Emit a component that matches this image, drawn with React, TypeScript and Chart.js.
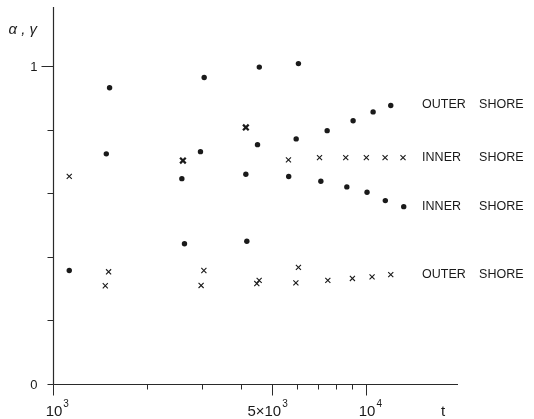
import React, { useEffect, useRef } from "react";
import { Chart, registerables } from "chart.js";

Chart.register(...registerables);

// α (dots)
const alphaT = [1127, 1480, 1516, 2580, 2630, 2958, 3040, 4130, 4160, 4500, 4560, 5660, 5980, 6080, 7510, 9090, 10530, 11990, 7170, 8680, 10070, 11520, 13190];
const alphaV = [0.357, 0.724, 0.932, 0.646, 0.441, 0.731, 0.964, 0.660, 0.449, 0.753, 0.997, 0.653, 0.771, 1.008, 0.797, 0.828, 0.856, 0.876, 0.638, 0.620, 0.603, 0.577, 0.558];

// γ (crosses)
const gammaT = [1127, 5650, 7100, 8610, 10020, 11500, 13120, 1505, 1469, 3033, 2972, 4555, 4477, 6080, 5967, 7548, 9043, 10450, 11990];
const gammaV = [0.653, 0.705, 0.712, 0.712, 0.712, 0.712, 0.712, 0.353, 0.309, 0.357, 0.310, 0.326, 0.316, 0.367, 0.318, 0.326, 0.332, 0.337, 0.344];

// coinciding (heavy) crosses
const heavyT = [2600, 4130];
const heavyV = [0.703, 0.807];

// axes
const xMin = 1000;
const xMax = 19660;
const yMin = 0;
const yMax = 1.186;
const xTickValues = [1000, 2000, 3000, 4000, 5000, 6000, 7000, 8000, 9000, 10000];
const xMajorValues = [1000, 5000, 10000];
const xLabelValues = [1000, 5000, 10000];
const xLabelBase = ["10", "5×10", "10"];
const xLabelExp = ["3", "3", "4"];
const yTickValues = [0, 0.2, 0.4, 0.6, 0.8, 1.0];
const yLabelValues = [0, 1];
const yLabelTexts = ["0", "1"];

// curve labels
const curveLabelT = 15100;
const curveLabelV = [0.879, 0.712, 0.558, 0.344];
const curveLabelWord1 = ["OUTER", "INNER", "INNER", "OUTER"];
const curveLabelWord2 = ["SHORE", "SHORE", "SHORE", "SHORE"];

const INK = "#1a1a1a";
const FONT = '"Liberation Sans", Arial, sans-serif';

const decor = {
  id: "decor",
  afterDraw(chart: any) {
    const { ctx, chartArea: a } = chart;
    const x = chart.scales.x;
    const y = chart.scales.y;
    ctx.save();
    ctx.strokeStyle = "#2a2a2a";
    ctx.lineWidth = 1.2;
    const x0 = Math.round(x.getPixelForValue(xMin)) + 0.5;
    const y0 = Math.round(y.getPixelForValue(yMin)) + 0.5;
    // axis lines
    ctx.beginPath();
    ctx.moveTo(x0, a.top);
    ctx.lineTo(x0, y0);
    ctx.moveTo(x0, y0);
    ctx.lineTo(a.right, y0);
    ctx.stroke();
    // x ticks
    ctx.lineWidth = 1;
    ctx.beginPath();
    xTickValues.forEach((v) => {
      const px = Math.round(x.getPixelForValue(v)) + 0.5;
      const len = xMajorValues.includes(v) ? 11 : 5;
      ctx.moveTo(px, y0);
      ctx.lineTo(px, y0 + len);
    });
    // y ticks
    yTickValues.forEach((v) => {
      const py = Math.round(y.getPixelForValue(v)) + 0.5;
      const len = v === 1 ? 12 : 6;
      ctx.moveTo(x0, py);
      ctx.lineTo(x0 - len, py);
    });
    ctx.stroke();

    ctx.fillStyle = INK;
    // y labels
    ctx.font = `13px ${FONT}`;
    ctx.textAlign = "right";
    ctx.textBaseline = "middle";
    yLabelValues.forEach((v, i) => {
      const py = y.getPixelForValue(v);
      ctx.fillText(yLabelTexts[i], x0 - 16, py + 1);
    });
    // x labels
    ctx.textBaseline = "alphabetic";
    xLabelValues.forEach((v, i) => {
      const px = x.getPixelForValue(v);
      ctx.font = `15px ${FONT}`;
      const base = xLabelBase[i];
      const w = ctx.measureText(base).width;
      const tenW = ctx.measureText("10").width;
      // center the "10" part on the tick
      const start = px - (w - tenW) - tenW / 2 + 1;
      ctx.textAlign = "left";
      ctx.fillText(base, start, y0 + 31);
      ctx.font = `10px ${FONT}`;
      ctx.fillText(xLabelExp[i], start + w + 1, y0 + 22);
    });
    // axis titles
    ctx.font = `italic 15px ${FONT}`;
    ctx.textAlign = "left";
    ctx.fillText("α , γ", x0 - 45, a.top + 27);
    ctx.font = `15px ${FONT}`;
    ctx.fillText("t", x.getPixelForValue(xMax) - 17, y0 + 31);

    // curve labels
    ctx.font = `12.5px ${FONT}`;
    ctx.textBaseline = "middle";
    const lx = x.getPixelForValue(curveLabelT);
    curveLabelV.forEach((v, i) => {
      const py = y.getPixelForValue(v);
      ctx.fillText(curveLabelWord1[i], lx, py);
      ctx.fillText(curveLabelWord2[i], lx + 57, py);
    });
    ctx.restore();
  },
};

export default function App() {
  const ref = useRef<HTMLCanvasElement | null>(null);
  useEffect(() => {
    document.body.style.margin = "0";
    const canvas = ref.current!;
    const chart = new Chart(canvas, {
      type: "scatter",
      data: {
        datasets: [
          {
            label: "α",
            data: alphaT.map((t, i) => ({ x: t, y: alphaV[i] })),
            pointStyle: "circle",
            pointRadius: 2.7,
            pointBackgroundColor: INK,
            pointBorderColor: INK,
            pointBorderWidth: 0,
            showLine: false,
          },
          {
            label: "γ",
            data: gammaT.map((t, i) => ({ x: t, y: gammaV[i] })),
            pointStyle: "crossRot",
            pointRadius: 3.6,
            pointBorderColor: INK,
            pointBorderWidth: 1.1,
            showLine: false,
          },
          {
            label: "γ (coinciding)",
            data: heavyT.map((t, i) => ({ x: t, y: heavyV[i] })),
            pointStyle: "crossRot",
            pointRadius: 4,
            pointBorderColor: INK,
            pointBorderWidth: 2.2,
            showLine: false,
          },
        ],
      },
      plugins: [decor],
      options: {
        animation: false,
        responsive: false,
        maintainAspectRatio: false,
        events: [],
        layout: { padding: { left: 53, top: 7, right: 76, bottom: 35 } },
        plugins: { legend: { display: false }, tooltip: { enabled: false } },
        scales: {
          x: { type: "logarithmic", min: xMin, max: xMax, display: false },
          y: { type: "linear", min: yMin, max: yMax, display: false },
        },
      },
    });
    return () => chart.destroy();
  }, []);
  return (
    <div style={{ position: "fixed", left: 0, top: 0, width: 534, height: 419, background: "#fff" }}>
      <canvas ref={ref} width={534} height={419} style={{ display: "block" }} />
    </div>
  );
}
